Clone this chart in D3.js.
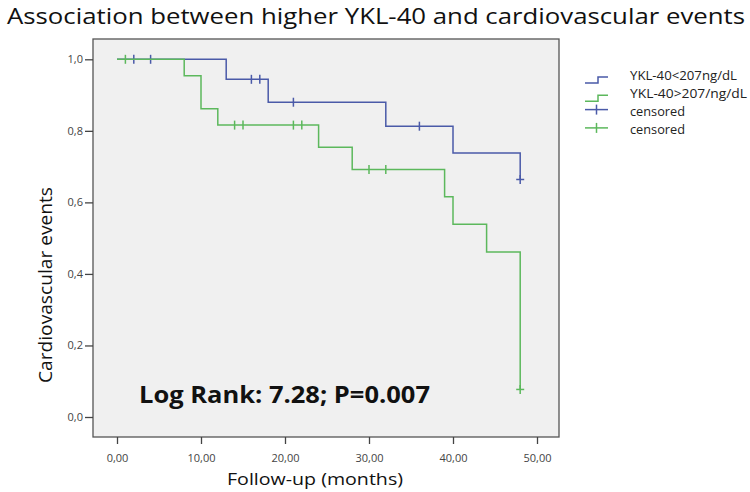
<!DOCTYPE html>
<html>
<head>
<meta charset="utf-8">
<script src="https://cdn.jsdelivr.net/npm/d3@7"></script>
<style>
  body { margin: 0; background: #fff; }
  text { font-family: "Open Sans", "Noto Sans", sans-serif; }
</style>
</head>
<body>
<svg id="chart" width="750" height="492"></svg>
<script>
// survival steps
const lowTimes = [0, 13, 18, 32, 40, 48];
const lowSurv = [1.0, 0.944, 0.88, 0.813, 0.738, 0.664];
const lowCensored = [2, 4, 16, 17, 21, 36, 48];

const highTimes = [0, 8, 10, 12, 24, 28, 39, 40, 44, 48];
const highSurv = [1.0, 0.954, 0.862, 0.816, 0.754, 0.692, 0.616, 0.539, 0.461, 0.077];
const highCensored = [1, 14, 15, 21, 22, 30, 32, 48];

const xTicks = [0, 10, 20, 30, 40, 50];
const yTicks = [0, 0.2, 0.4, 0.6, 0.8, 1.0];
const legendLabels = ["YKL-40<207ng/dL", "YKL-40>207/ng/dL", "censored", "censored"];
const legendWidths = [107, 117, 55, 55];

const blue = "#4a5aa8";
const green = "#5cb85c";

const svg = d3.select("#chart");
const box = { left: 93, right: 559, top: 39, bottom: 437 };

const x = d3.scaleLinear().domain([0, 50]).range([117, 537]);
const y = d3.scaleLinear().domain([0, 1]).range([417, 59.3]);

svg.append("rect")
  .attr("x", box.left).attr("y", box.top)
  .attr("width", box.right - box.left).attr("height", box.bottom - box.top)
  .attr("fill", "#f0f0f0").attr("stroke", "#555").attr("stroke-width", 1.3);

// axes
const xAxis = svg.append("g")
  .attr("transform", `translate(0,${box.bottom})`)
  .call(d3.axisBottom(x).tickValues(xTicks).tickSize(7).tickPadding(10)
    .tickFormat(d => d3.format(".2f")(d).replace(".", ",")));
xAxis.select(".domain").remove();

const yAxis = svg.append("g")
  .attr("transform", `translate(${box.left},0)`)
  .call(d3.axisLeft(y).tickValues(yTicks).tickSize(8).tickPadding(2)
    .tickFormat(d => d3.format(".1f")(d).replace(".", ",")));
yAxis.select(".domain").remove();

svg.selectAll(".tick line").attr("stroke", "#444").attr("stroke-width", 1.3);
svg.selectAll(".tick text").attr("fill", "#444").style("font-size", "11px")
  .style("font-family", "'Open Sans', sans-serif");

// curves
function survAt(times, surv, t) {
  let v = surv[0];
  times.forEach((tt, i) => { if (tt <= t) v = surv[i]; });
  return v;
}

const line = d3.line().x(d => x(d[0])).y(d => y(d[1])).curve(d3.curveStepAfter);

const groups = [
  { times: lowTimes, surv: lowSurv, cens: lowCensored, color: blue },
  { times: highTimes, surv: highSurv, cens: highCensored, color: green }
];

groups.forEach(g => {
  const pts = g.times.map((t, i) => [t, g.surv[i]]);
  svg.append("path")
    .attr("d", line(pts))
    .attr("fill", "none").attr("stroke", g.color).attr("stroke-width", 1.5);

  svg.selectAll(null)
    .data(g.cens)
    .enter()
    .append("line")
    .attr("x1", d => x(d)).attr("x2", d => x(d))
    .attr("y1", d => y(survAt(g.times, g.surv, d)) - 4.5)
    .attr("y2", d => y(survAt(g.times, g.surv, d)) + 4.5)
    .attr("stroke", g.color).attr("stroke-width", 1.5);

  // short horizontal of the censored mark at the curve end
  svg.append("line")
    .attr("x1", x(48) - 4).attr("x2", x(48) + 4)
    .attr("y1", y(g.surv[g.surv.length - 1])).attr("y2", y(g.surv[g.surv.length - 1]))
    .attr("stroke", g.color).attr("stroke-width", 1.5);
});

// legend
const legend = svg.append("g").attr("transform", "translate(585,0)");
const legendColors = [blue, green, blue, green];
legendLabels.forEach((lab, i) => {
  const cy = 75 + i * 18.3;
  if (i < 2) {
    legend.append("path")
      .attr("d", `M0,${cy + 8}H13V${cy + 2}H23`)
      .attr("fill", "none").attr("stroke", legendColors[i]).attr("stroke-width", 1.5);
  } else {
    const my = cy - 2;
    legend.append("line").attr("x1", 0).attr("x2", 23).attr("y1", my).attr("y2", my)
      .attr("stroke", legendColors[i]).attr("stroke-width", 1.5);
    legend.append("line").attr("x1", 11.5).attr("x2", 11.5).attr("y1", my - 5).attr("y2", my + 5)
      .attr("stroke", legendColors[i]).attr("stroke-width", 1.5);
  }
  legend.append("text")
    .attr("x", 45).attr("y", cy + 4.5)
    .attr("textLength", legendWidths[i]).attr("lengthAdjust", "spacingAndGlyphs")
    .style("font-size", "13px").attr("fill", "#222")
    .text(lab);
});

// titles
svg.append("text")
  .attr("x", 7).attr("y", 24)
  .attr("textLength", 738).attr("lengthAdjust", "spacingAndGlyphs")
  .style("font-size", "22px").attr("fill", "#111")
  .text("Association between higher YKL-40 and cardiovascular events");

svg.append("text")
  .attr("x", 315).attr("y", 485)
  .attr("text-anchor", "middle")
  .attr("textLength", 176).attr("lengthAdjust", "spacingAndGlyphs")
  .style("font-size", "17px").attr("fill", "#111")
  .text("Follow-up (months)");

svg.append("text")
  .attr("transform", "translate(52,285) rotate(-90)")
  .attr("text-anchor", "middle")
  .attr("textLength", 196).attr("lengthAdjust", "spacingAndGlyphs")
  .style("font-size", "19px").attr("fill", "#111")
  .text("Cardiovascular events");

svg.append("text")
  .attr("x", 139).attr("y", 403)
  .attr("textLength", 291).attr("lengthAdjust", "spacingAndGlyphs")
  .style("font-size", "23px").style("font-weight", "bold").attr("fill", "#111")
  .text("Log Rank: 7.28; P=0.007");
</script>
</body>
</html>
